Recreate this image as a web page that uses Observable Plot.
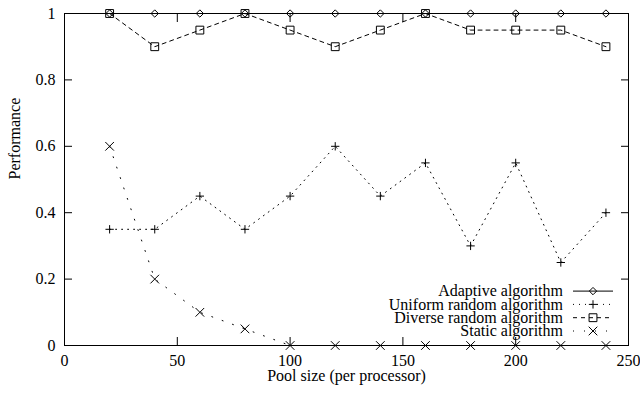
<!DOCTYPE html>
<html><head><meta charset="utf-8">
<script src="https://cdn.jsdelivr.net/npm/d3@7"></script>
<script src="https://cdn.jsdelivr.net/npm/@observablehq/plot@0.6"></script>
<style>
body{margin:0;background:#fff}
</style>
</head><body><div id="chart"></div>
<script>
const poolSize = [20,40,60,80,100,120,140,160,180,200,220,240];
const adaptive = [1,1,1,1,1,1,1,1,1,1,1,1];
const uniformRandom = [0.35,0.35,0.45,0.35,0.45,0.6,0.45,0.55,0.3,0.55,0.25,0.4];
const diverseRandom = [1,0.9,0.95,1,0.95,0.9,0.95,1,0.95,0.95,0.95,0.9];
const staticAlg = [0.6,0.2,0.1,0.05,0,0,0,0,0,0,0,0];
const seriesNames = ["Adaptive algorithm","Uniform random algorithm","Diverse random algorithm","Static algorithm"];
const xTicks = [0,50,100,150,200,250];
const yTicks = [0,0.2,0.4,0.6,0.8,1];
const xLabel = "Pool size (per processor)";
const yLabel = "Performance";

const FONT = "'Liberation Serif', 'Times New Roman', Times, serif";
const seriesValues = [adaptive, uniformRandom, diverseRandom, staticAlg];
const styles = [
  {dash: null, symbol: "diamond2", d3sym: d3.symbolDiamond2, r: 3.3},
  {dash: "1,5", symbol: "plus", d3sym: d3.symbolPlus, r: 2.8},
  {dash: "4,4", symbol: "square2", d3sym: d3.symbolSquare2, r: 5},
  {dash: "1,10", symbol: "times", d3sym: d3.symbolTimes, r: 4}
];
const tables = seriesValues.map((vals, i) => poolSize.map((x, j) => ({x, y: vals[j], series: seriesNames[i]})));

function legendMark(index, scales, values, dim) {
  const g = d3.create("svg:g");
  const right = dim.width - dim.marginRight;
  const bottom = dim.height - dim.marginBottom;
  styles.forEach((s, i) => {
    const y = bottom - 14 - (3 - i) * 13.3;
    g.append("text").attr("x", right - 65).attr("y", y).attr("text-anchor", "end").attr("dy", "0.32em").attr("fill", "black").text(seriesNames[i]);
    g.append("line").attr("x1", right - 55).attr("x2", right - 15).attr("y1", y).attr("y2", y)
      .attr("stroke", "black").attr("stroke-dasharray", s.dash);
    g.append("path").attr("transform", `translate(${right - 35},${y})`)
      .attr("d", d3.symbol(s.d3sym, Math.PI * s.r * s.r)()).attr("fill", "none").attr("stroke", "black");
  });
  return g.node();
}

const marks = [
  Plot.axisX({ticks: xTicks, tickSize: -8, tickPadding: 17, label: null, tickFormat: d => String(d)}),
  Plot.axisX({anchor: "top", ticks: xTicks, tickSize: -8, label: null, tickFormat: () => ""}),
  Plot.axisY({ticks: yTicks, tickSize: -8, tickPadding: 17, label: null, tickFormat: d => String(d)}),
  Plot.axisY({anchor: "right", ticks: yTicks, tickSize: -8, label: null, tickFormat: () => ""}),
  Plot.frame({stroke: "black"})
];
tables.forEach((t, i) => {
  marks.push(Plot.line(t, {x: "x", y: "y", stroke: "black", strokeWidth: 1, strokeDasharray: styles[i].dash}));
});
tables.forEach((t, i) => {
  marks.push(Plot.dot(t, {x: "x", y: "y", symbol: () => styles[i].symbol, r: styles[i].r, stroke: "black", fill: "none", strokeWidth: 1}));
});
marks.push(Plot.text([xLabel], {frameAnchor: "bottom", dy: 35, text: d => d, fill: "black"}));
marks.push(Plot.text([yLabel], {frameAnchor: "left", dx: -50, rotate: -90, text: d => d, fill: "black"}));
marks.push(legendMark);

const chart = Plot.plot({
  width: 640, height: 395,
  marginLeft: 64, marginRight: 12, marginTop: 13, marginBottom: 50,
  style: {background: "white", color: "black", fontFamily: FONT, fontSize: "16px"},
  x: {domain: [0, 250]},
  y: {domain: [0, 1]},
  symbol: {type: "identity"},
  marks
});
d3.select(chart).selectAll("text").style("font-family", FONT).style("font-size", "16px");
document.getElementById("chart").appendChild(chart);
</script>
</body></html>
